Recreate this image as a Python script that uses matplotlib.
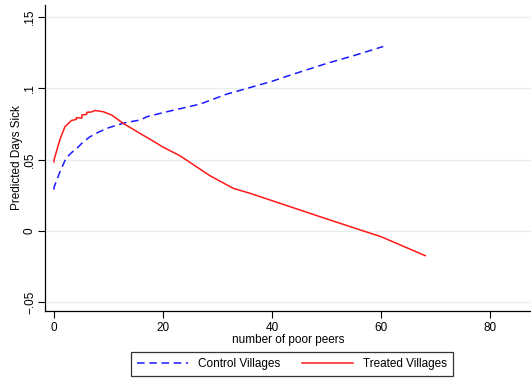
import numpy as np
import matplotlib.pyplot as plt

plt.rcParams['font.family'] = ['Liberation Sans', 'DejaVu Sans']

control_x = [0, 0, 1.1, 2.2, 3.2, 4.2, 5.1, 6.6, 8.0, 9.7, 11.5, 13.3, 15.8, 17, 20,
             22.8, 26.8, 31.7, 35.4, 40, 43.9, 50, 55, 60.4]
control_y = [0.029, 0.0306, 0.0416, 0.051, 0.0549, 0.058, 0.0615, 0.0661, 0.069, 0.072,
             0.0742, 0.0762, 0.0778, 0.0801, 0.083, 0.0855, 0.089, 0.096, 0.100, 0.105,
             0.110, 0.1175, 0.123, 0.1294]

treated_x = [0, 0, 1.1, 2.0, 3.2, 4.1, 4.1, 5.1, 5.1, 6.0, 6.0, 6.9, 7.5, 9.0, 10.6,
             12.7, 15.8, 18, 20.1, 23.1, 28.6, 32.9, 36, 39.6, 50, 60, 68.1]
treated_y = [0.0485, 0.0498, 0.0643, 0.0731, 0.0775, 0.0783, 0.0795, 0.0792, 0.0813,
             0.0818, 0.0832, 0.0835, 0.0845, 0.0837, 0.0813, 0.0755, 0.0684, 0.0635,
             0.0586, 0.0528, 0.0388, 0.0299, 0.0264, 0.0218, 0.0085, -0.004, -0.0173]

x_ticks = [0, 20, 40, 60, 80]
y_ticks = [-0.05, 0, 0.05, 0.1, 0.15]
y_tick_labels = ['\u2212.05', '0', '.05', '.1', '.15']

fig = plt.figure(figsize=(5.31, 3.80), dpi=100)
ax = fig.add_axes([45 / 531, 69 / 380, 486 / 531, 306 / 380])

ax.plot(control_x, control_y, color='#1a1aff', lw=1.1, dashes=(5, 3),
        label='Control Villages')
ax.plot(treated_x, treated_y, color='#ff1a1a', lw=1.1, label='Treated Villages')

ax.set_xlim(-1.65, 87.5)
ax.set_ylim(-0.0561, 0.1585)
ax.set_xticks(x_ticks)
ax.set_yticks(y_ticks)
ax.set_yticklabels(y_tick_labels, rotation=90, va='center')
ax.grid(axis='y', color='#e6eef0', lw=1.0)
ax.set_axisbelow(True)
ax.tick_params(direction='out', length=5, width=0.8, labelsize=8.5, color='black',
               pad=3)
ax.tick_params(axis='y', pad=1.5)

for side in ['top', 'right']:
    ax.spines[side].set_visible(False)
for side in ['left', 'bottom']:
    ax.spines[side].set_linewidth(0.9)

ax.set_xlabel('number of poor peers', fontsize=8.5, labelpad=0)
ax.set_ylabel('Predicted Days Sick', fontsize=8.5, labelpad=1)

leg = fig.legend(loc='center', bbox_to_anchor=(292 / 531, 1 - 364 / 380), ncol=2,
                 fontsize=8.5, frameon=True, fancybox=False, edgecolor='black',
                 handlelength=4.3, columnspacing=1.9, borderpad=0.55)
leg.get_frame().set_linewidth(0.9)

fig.savefig('out.png', dpi=100, facecolor='white')
